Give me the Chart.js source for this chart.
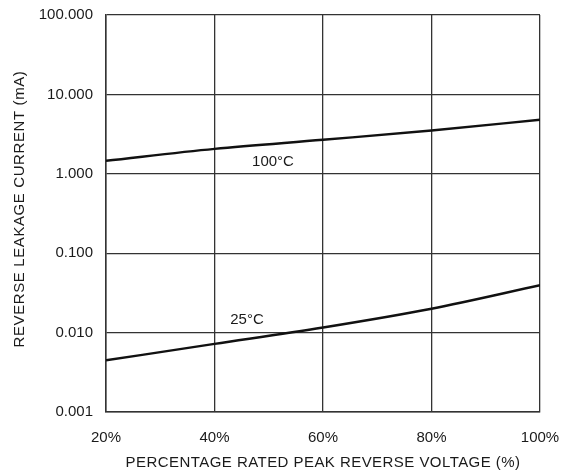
<!DOCTYPE html>
<html>
<head>
<meta charset="utf-8">
<script src="https://cdn.jsdelivr.net/npm/chart.js@4.4.1/dist/chart.umd.min.js"></script>
<style>
  html, body { margin: 0; padding: 0; background: #fff; }
  .chart-frame { position: relative; width: 570px; height: 475px; }
</style>
</head>
<body>
<div class="chart-frame"><canvas id="leakageChart"></canvas></div>
<script>
const voltagePct = [20, 40, 60, 80, 100];
const leakage100C = [1.46, 2.06, 2.68, 3.51, 4.79];
const leakage25C = [0.00448, 0.0072, 0.0116, 0.020, 0.0395];
const yTicks = [0.001, 0.01, 0.1, 1, 10, 100];
const xTicks = [20, 40, 60, 80, 100];

const fontFamily = "Liberation Sans, Arial, sans-serif";
const gridColor = "#333333";

const curveLabels = [
  { text: "100°C", x: 273, y: 162 },
  { text: "25°C", x: 247, y: 320 }
];

const textPlugin = {
  id: "textPlugin",
  afterDraw(chart) {
    const { ctx, chartArea } = chart;
    ctx.save();
    ctx.fillStyle = "#1a1a1a";
    ctx.textAlign = "center";
    ctx.textBaseline = "middle";
    ctx.font = `15px ${fontFamily}`;

    curveLabels.forEach((label) => {
      ctx.fillText(label.text, label.x, label.y);
    });

    // axis titles, a touch wider than plain Arial in the original
    ctx.letterSpacing = "0.45px";
    ctx.fillText("PERCENTAGE RATED PEAK REVERSE VOLTAGE (%)", (chartArea.left + chartArea.right) / 2, 463);
    ctx.letterSpacing = "0.6px";
    ctx.translate(20, 209);
    ctx.rotate(-Math.PI / 2);
    ctx.fillText("REVERSE LEAKAGE CURRENT (mA)", 0, 0);
    ctx.restore();
  }
};

function toPoints(xs, ys) {
  return xs.map((x, index) => ({ x, y: ys[index] }));
}

function curve(data) {
  return {
    data,
    borderColor: "#111111",
    borderWidth: 2.4,
    pointRadius: 0,
    fill: false,
    cubicInterpolationMode: "monotone"
  };
}

// stop the edge tick labels from pushing the plot area inwards
function clearScalePadding(scale) {
  scale.paddingTop = 0;
  scale.paddingBottom = 0;
  scale.paddingLeft = 0;
  scale.paddingRight = 0;
}

new Chart(document.getElementById("leakageChart"), {
  type: "line",
  data: {
    datasets: [
      curve(toPoints(voltagePct, leakage100C)),
      curve(toPoints(voltagePct, leakage25C))
    ]
  },
  options: {
    responsive: true,
    maintainAspectRatio: false,
    animation: false,
    layout: { padding: { top: 15, right: 30, bottom: 0, left: 0 } },
    plugins: {
      legend: { display: false },
      tooltip: { enabled: false }
    },
    scales: {
      x: {
        type: "linear",
        min: 20,
        max: 100,
        afterBuildTicks(scale) {
          scale.ticks = xTicks.map((value) => ({ value }));
        },
        afterFit(scale) {
          scale.height = 63;
          clearScalePadding(scale);
        },
        grid: { color: gridColor, lineWidth: 1.3, drawTicks: false },
        border: { color: gridColor, width: 1.5 },
        ticks: {
          padding: 17,
          color: "#1a1a1a",
          font: { family: fontFamily, size: 15 },
          maxRotation: 0,
          callback: (value) => `${value}%`
        }
      },
      y: {
        type: "logarithmic",
        min: 0.001,
        max: 100,
        afterBuildTicks(scale) {
          scale.ticks = yTicks.map((value) => ({ value }));
        },
        afterFit(scale) {
          scale.width = 106;
          clearScalePadding(scale);
        },
        grid: { color: gridColor, lineWidth: 1.3, drawTicks: false },
        border: { color: gridColor, width: 1.5 },
        ticks: {
          padding: 13,
          color: "#1a1a1a",
          font: { family: fontFamily, size: 15 },
          callback: (value) => Number(value).toFixed(3)
        }
      }
    }
  },
  plugins: [textPlugin]
});
</script>
</body>
</html>
